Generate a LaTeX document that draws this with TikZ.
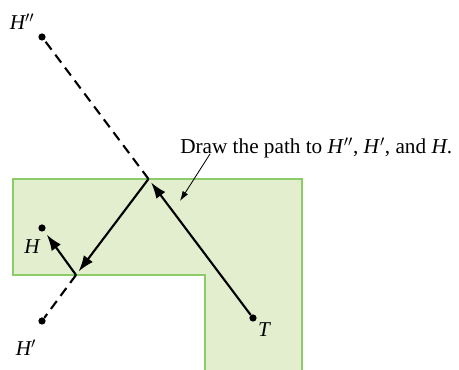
\documentclass[tikz,border=0pt]{standalone}
\usepackage{fontspec}
\setmainfont{Liberation Serif}
\usetikzlibrary{arrows.meta}
\definecolor{roomfill}{RGB}{226,238,205}
\definecolor{roomline}{RGB}{140,204,104}
\tikzset{
  dot/.style={circle,fill=black,inner sep=0pt,minimum size=0.18cm},
  ray/.style={line width=1.5pt},
  mirror/.style={line width=1.5pt,dash pattern=on 7pt off 4.5pt},
  shot/.style={ray,-{Latex[length=11.5pt,width=8pt]},shorten >=3pt},
  lbl/.style={font=\itshape\fontsize{15}{17}\selectfont,inner sep=0pt}
}
\begin{document}
\begin{tikzpicture}
        \useasboundingbox (0,0) rectangle (11.475,9.25);
        % the room
        \fill[roomfill] (0.325,4.775) -- (7.55,4.775) -- (7.55,0) -- (5.125,0) -- (5.125,2.375) -- (0.325,2.375) -- cycle;
        \draw[roomline,line width=1.4pt] (7.55,0) -- (7.55,4.775) -- (0.325,4.775) -- (0.325,2.375) -- (5.125,2.375) -- (5.125,0);
        % points
        \node[dot] (Hpp) at (1.05,8.325) {};
        \node[dot] (H) at (1.05,3.55) {};
        \node[dot] (Hp) at (1.05,1.225) {};
        \node[dot] (T) at (6.325,1.3) {};
        \coordinate (P1) at (3.7125,4.775);
        \coordinate (P2) at (1.9,2.375);
        \node[lbl] (Hpplbl) at (0.55,8.7) {H$''$};
        \node[lbl] (Hlbl) at (0.8,3.075) {H};
        \node[lbl] (Hplbl) at (0.65,0.55) {H$'$};
        \node[lbl] (Tlbl) at (6.6,1.0) {T};
        % path
        \draw[mirror] (P1) -- (Hpp);
        \draw[mirror] (P2) -- (Hp);
        \draw[shot] (T) -- (P1);
        \draw[shot] (P1) -- (P2);
        \draw[shot] (P2) -- (H);
        % note
        \node[anchor=west,font=\fontsize{15.1}{18}\selectfont,inner sep=0pt] (note) at (4.5,5.55) {Draw the path to \textit{H}$''$, \textit{H}$'$, and \textit{H}.};
        \draw[-{Latex[length=7pt,width=4.5pt]},line width=0.6pt] (5.25,5.4) -- (4.5,4.225);
    \end{tikzpicture}
\end{document}
